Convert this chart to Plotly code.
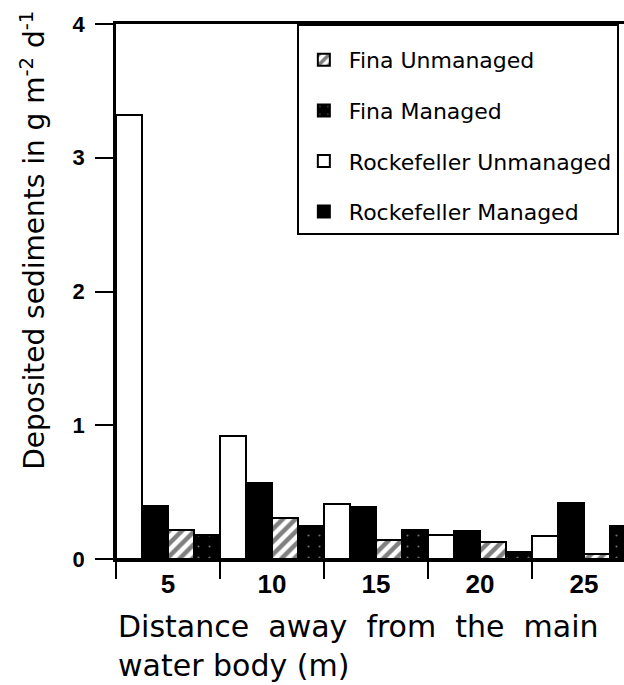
import plotly.graph_objects as go

distances = ["5", "10", "15", "20", "25"]
rock_unmanaged = [3.32, 0.92, 0.41, 0.18, 0.17]
rock_managed = [0.40, 0.57, 0.39, 0.21, 0.42]
fina_unmanaged = [0.22, 0.31, 0.14, 0.13, 0.04]
fina_managed = [0.18, 0.25, 0.22, 0.05, 0.25]

y_ticks = [0, 1, 2, 3, 4]

fig = go.Figure()

line = dict(color="black", width=2)

fig.add_trace(go.Bar(
    x=distances, y=rock_unmanaged, name="Rockefeller Unmanaged",
    marker=dict(color="white", line=line), legendrank=3, legendgroup="c"))
fig.add_trace(go.Bar(
    x=distances, y=rock_managed, name="Rockefeller Managed",
    marker=dict(color="black", line=line), legendrank=4, legendgroup="d"))
fig.add_trace(go.Bar(
    x=distances, y=fina_unmanaged, name="Fina Unmanaged",
    marker=dict(color="white", line=line,
                pattern=dict(shape="/", fgcolor="black", bgcolor="white",
                             size=9, solidity=0.5)),
    legendrank=1, legendgroup="a"))
fig.add_trace(go.Bar(
    x=distances, y=fina_managed, name="Fina Managed",
    marker=dict(color="black", line=line,
                pattern=dict(shape=".", fgcolor="#dddddd", bgcolor="black",
                             size=11, solidity=0.03)),
    legendrank=2, legendgroup="b"))

fig.update_layout(
    width=624, height=685,
    margin=dict(l=116, r=0, t=24, b=126),
    paper_bgcolor="white", plot_bgcolor="white",
    barmode="group", bargap=0, bargroupgap=0,
    showlegend=True,
    legend=dict(
        x=0.356, y=1, xanchor="left", yanchor="top",
        bordercolor="black", borderwidth=2, bgcolor="white",
        font=dict(family="DejaVu Sans", size=22, color="black"),
        traceorder="grouped", tracegroupgap=19,
        title=dict(text=" ", font=dict(size=10)),
        itemwidth=40,
    ),
    font=dict(family="DejaVu Sans", color="black"),
)

fig.update_xaxes(
    type="category", range=[-0.5, 4.385],
    showline=True, linecolor="black", linewidth=2.5, mirror=True,
    ticks="outside", ticklen=17, tickwidth=2, tickcolor="black",
    tickson="boundaries",
    tickfont=dict(family="Liberation Sans", size=26, color="black", weight="bold"),
    showgrid=False, zeroline=False,
)
fig.update_yaxes(
    range=[0, 4], tickvals=y_ticks,
    showline=True, linecolor="black", linewidth=2.5,
    ticks="outside", ticklen=18, tickwidth=2, tickcolor="black",
    ticklabelstandoff=6,
    tickfont=dict(family="Liberation Sans", size=22, color="black", weight="bold"),
    showgrid=False, zeroline=False,
)

fig.add_annotation(
    text="Deposited sediments in g m<sup>-2</sup> d<sup>-1</sup>",
    xref="paper", yref="paper", x=-0.163, y=0.595,
    xanchor="center", yanchor="middle", textangle=-90, showarrow=False,
    font=dict(family="DejaVu Sans", size=28, color="black"),
)
fig.add_annotation(
    text="Distance  away  from  the  main<br>water body (m)",
    xref="paper", yref="paper", x=0.0, y=-0.09,
    xanchor="left", yanchor="top", align="left", showarrow=False,
    font=dict(family="DejaVu Sans", size=30, color="black"),
)

fig.write_html("out.html")
